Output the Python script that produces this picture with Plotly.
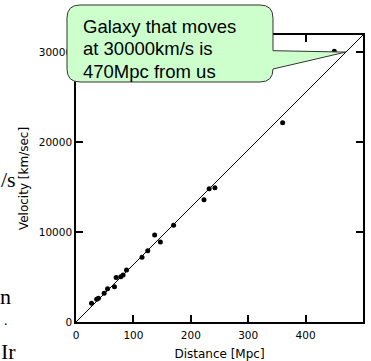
import plotly.graph_objects as go

# Data: galaxy distances (Mpc) and recession velocities (km/s)
distance = [27, 36, 39, 49, 55, 67, 70, 78, 82, 88, 115, 125, 137, 147, 170,
            223, 232, 242, 360, 450]
velocity = [2080, 2520, 2630, 3190, 3700, 3920, 4960, 5040, 5220, 5780, 7190,
            7930, 9670, 8890, 10740, 13590, 14810, 14920, 22140, 30100]

fit_x = [0, 500]
fit_y = [0, 31900]

x_ticks = [0, 100, 200, 300, 400, 500]
y_ticks = [0, 10000, 20000, 30000]

callout_lines = ["Galaxy that moves", "at 30000km/s is", "470Mpc from us"]
callout_target = (470, 30000)

W, H = 371, 361
L, R, T, B = 76, 8, 35, 39
PW, PH = W - L - R, H - T - B
XR = [0, 500]
YR = [0, 31900]


def pp(px, py):
    """pixel (from top-left) -> paper coords"""
    return (px - L) / PW, (H - B - py) / PH


def d2px(x, y):
    return L + (x - XR[0]) / (XR[1] - XR[0]) * PW, (H - B) - (y - YR[0]) / (YR[1] - YR[0]) * PH


fig = go.Figure()
fig.add_trace(go.Scatter(x=fit_x, y=fit_y, mode="lines",
                         line=dict(color="black", width=1), showlegend=False))
fig.add_trace(go.Scatter(x=distance, y=velocity, mode="markers",
                         marker=dict(color="black", size=5), showlegend=False))

axis_common = dict(showline=True, linecolor="black", linewidth=1.5, mirror="ticks",
                   ticks="inside", ticklen=7, tickwidth=1.5, tickcolor="black",
                   showgrid=False, zeroline=False, automargin=False,
                   tickfont=dict(family="DejaVu Sans", size=10.5, color="black"))

fig.update_xaxes(range=XR, tickvals=x_ticks, ticktext=[str(v) for v in x_ticks],
                 ticklabelstandoff=3,
                 title=dict(text="Distance [Mpc]", standoff=10,
                            font=dict(family="DejaVu Sans", size=12, color="black")),
                 **axis_common)
fig.update_yaxes(range=YR, tickvals=y_ticks, ticktext=[str(v) for v in y_ticks],
                 title=dict(text="Velocity [km/sec]", standoff=8,
                            font=dict(family="DejaVu Sans", size=12, color="black")),
                 **axis_common)

# Callout balloon
x0, x1, y0, y1, r = 67, 273, 5, 82, 13
tip = d2px(*callout_target)
pb0, pb1 = 50.7, 69


def P(px, py):
    a, b = pp(px, py)
    return f"{a:.5f},{b:.5f}"


path = (f"M {P(x0 + r, y0)} L {P(x1 - r, y0)} Q {P(x1, y0)} {P(x1, y0 + r)} "
        f"L {P(x1, pb0)} L {P(tip[0], tip[1])} L {P(x1, pb1)} "
        f"L {P(x1, y1 - r)} Q {P(x1, y1)} {P(x1 - r, y1)} "
        f"L {P(x0 + r, y1)} Q {P(x0, y1)} {P(x0, y1 - r)} "
        f"L {P(x0, y0 + r)} Q {P(x0, y0)} {P(x0 + r, y0)} Z")
fig.add_shape(type="path", path=path, xref="paper", yref="paper",
              fillcolor="#ccffcc", line=dict(color="#333333", width=1), layer="above")

for i, line in enumerate(callout_lines):
    tx, ty = pp(81, 26 + 22.5 * i)
    fig.add_annotation(x=tx, y=ty, xref="paper", yref="paper", xanchor="left", yanchor="middle",
                       text=line, showarrow=False, align="left",
                       font=dict(family="Arial, Liberation Sans", size=18.5, color="black"))

# Fragments of slide text behind the chart
for txt, px, py, sz in [("/s", -1, 179, 22), ("n", -2, 296, 22), (".", 2, 320, 14), ("Ir", -1, 351, 22)]:
    fx, fy = pp(px, py)
    fig.add_annotation(x=fx, y=fy, xref="paper", yref="paper", xanchor="left", yanchor="middle",
                       text=txt, showarrow=False,
                       font=dict(family="Liberation Serif", size=sz, color="black"))

fig.update_layout(width=W, height=H, margin=dict(l=L, r=R, t=T, b=B),
                  paper_bgcolor="white", plot_bgcolor="white", showlegend=False)

fig.write_html("out.html")
